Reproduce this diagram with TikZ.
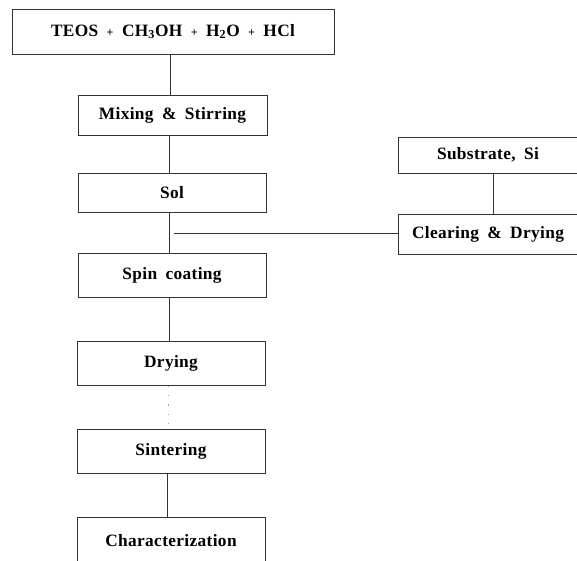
\documentclass[tikz,border=0pt]{standalone}
\usepackage{fontspec}
\setmainfont{Liberation Serif}[LetterSpace=2,WordSpace=1.8]
\begin{document}
\begin{tikzpicture}[x=0.75pt,y=-0.75pt,
  box/.style={draw=black!80,line width=0.6pt,inner sep=0pt,
    font=\bfseries\fontsize{13}{16}\selectfont},
  link/.style={draw=black!80,line width=0.5pt}]
\path[use as bounding box] (0,0) rectangle (577,560);
\clip (0,0) rectangle (577,560);

% main process chain
\node[box,minimum width=241.5pt,minimum height=33.75pt] (raw) at (173,31.5)
  {TEOS {\small+} CH\textsubscript{3}OH {\small+} H\textsubscript{2}O {\small+} HCl};
\node[box,minimum width=141.75pt,minimum height=30pt] (mix) at (172.5,115) {Mixing \& Stirring};
\node[box,minimum width=141pt,minimum height=29.5pt] (sol) at (172,192.75) {Sol};
\node[box,minimum width=141pt,minimum height=33pt] (spin) at (172,275) {Spin coating};
\node[box,minimum width=141pt,minimum height=32.5pt] (dry) at (171,363.5) {Drying};
\node[box,minimum width=141pt,minimum height=33pt] (sint) at (171,451) {Sintering};
\node[box,minimum width=141pt,minimum height=36pt] (char) at (171,541) {Characterization};

% substrate branch
\node[box,minimum width=135pt,minimum height=27pt] (sub) at (488,155) {Substrate, Si};
\node[box,minimum width=135pt,minimum height=30pt] (clean) at (488,234) {Clearing \& Drying};

% connectors
\draw[link] (raw.south -| 170,0) -- (mix.north -| 170,0);
\draw[link] (mix.south -| 169,0) -- (sol.north -| 169,0);
\draw[link] (sol.south -| 169,0) -- (spin.north -| 169,0);
\coordinate (tap) at (174,233);
\draw[link] (tap) -- (clean.west |- tap);
\draw[link] (sub.south -| 493,0) -- (clean.north -| 493,0);
\draw[link] (spin.south -| 169,0) -- (dry.north -| 169,0);
\draw[draw=black!35,line width=0.4pt,dash pattern=on 1pt off 6pt] (dry.south -| 168,0) -- (sint.north -| 168,0);
\draw[link] (sint.south -| 167,0) -- (char.north -| 167,0);
\end{tikzpicture}
\end{document}
